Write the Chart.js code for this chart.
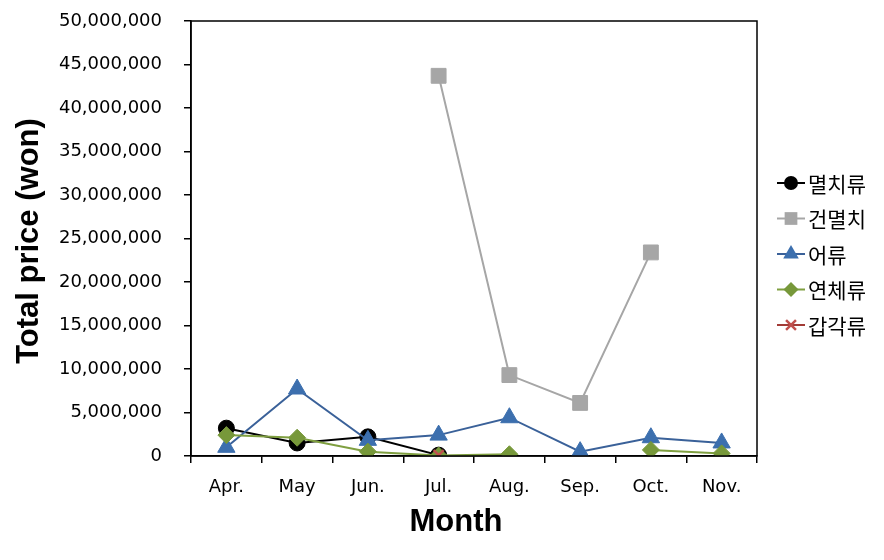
<!DOCTYPE html>
<html>
<head>
<meta charset="utf-8">
<script src="https://cdn.jsdelivr.net/npm/chart.js@4/dist/chart.umd.min.js"></script>
<style>
  html, body { margin: 0; padding: 0; background: #fff; }
  #wrap { width: 884px; height: 560px; }
</style>
</head>
<body>
<div id="wrap"><canvas id="priceChart" width="884" height="560"></canvas></div>
<script>
const months = ['Apr.', 'May', 'Jun.', 'Jul.', 'Aug.', 'Sep.', 'Oct.', 'Nov.'];
const seriesNames = ['멸치류', '건멸치', '어류', '연체류', '갑각류'];

// values in won
const anchovy    = [3200000, 1500000, 2200000, 100000, null, null, null, null];
const driedAnch  = [null, null, null, 43700000, 9300000, 6100000, 23400000, null];
const fish       = [1000000, 7700000, 1800000, 2400000, 4400000, 500000, 2100000, 1500000];
const mollusc    = [2400000, 2100000, 500000, 50000, 200000, null, 700000, 300000];
const crustacean = [null, null, null, 100000, null, null, null, null];

const yMax = 50000000;
const yStep = 5000000;

function fmt(v) {
  return v.toLocaleString('en-US');
}

// small marker drawer, used for the legend
function drawMarker(ctx, style, x, y, r, fill) {
  ctx.save();
  ctx.fillStyle = fill;
  ctx.strokeStyle = fill;
  ctx.beginPath();
  if (style === 'circle') {
    ctx.arc(x, y, r, 0, Math.PI * 2);
    ctx.fill();
  } else if (style === 'rect') {
    const s = Math.SQRT1_2 * r;
    ctx.rect(x - s, y - s, 2 * s, 2 * s);
    ctx.fill();
  } else if (style === 'triangle') {
    ctx.moveTo(x, y - r);
    ctx.lineTo(x + r * 0.866, y + r * 0.5);
    ctx.lineTo(x - r * 0.866, y + r * 0.5);
    ctx.closePath();
    ctx.fill();
  } else if (style === 'rectRot') {
    ctx.moveTo(x - r, y);
    ctx.lineTo(x, y - r);
    ctx.lineTo(x + r, y);
    ctx.lineTo(x, y + r);
    ctx.closePath();
    ctx.fill();
  } else if (style === 'crossRot') {
    ctx.lineWidth = 2.5;
    const d = r * 0.707;
    ctx.moveTo(x - d, y - d); ctx.lineTo(x + d, y + d);
    ctx.moveTo(x + d, y - d); ctx.lineTo(x - d, y + d);
    ctx.stroke();
  }
  ctx.restore();
}

const framePlugin = {
  id: 'frame',
  afterDraw(chart) {
    const ctx = chart.ctx;
    const a = chart.chartArea;
    ctx.save();
    ctx.strokeStyle = '#000';
    ctx.lineWidth = 1.5;
    ctx.strokeRect(a.left, a.top, a.right - a.left, a.bottom - a.top);

    // axis titles
    ctx.fillStyle = '#000';
    ctx.font = 'bold 31px "Liberation Sans", Arial, sans-serif';
    ctx.textAlign = 'center';
    ctx.textBaseline = 'middle';
    ctx.fillText('Month', 456, 522);
    ctx.translate(29, 241);
    ctx.rotate(-Math.PI / 2);
    ctx.fillText('Total price (won)', 0, 0);
    ctx.restore();

    // legend
    ctx.save();
    ctx.font = '21px "Noto Sans CJK KR", sans-serif';
    ctx.textAlign = 'left';
    ctx.textBaseline = 'middle';
    chart.data.datasets.forEach((ds, i) => {
      const y = 183 + i * 35.5;
      ctx.strokeStyle = ds.borderColor;
      ctx.lineWidth = 2;
      ctx.beginPath();
      ctx.moveTo(777, y);
      ctx.lineTo(805, y);
      ctx.stroke();
      drawMarker(ctx, ds.pointStyle, 791, y, ds.legendRadius, ds.pointBackgroundColor);
      ctx.fillStyle = '#000';
      ctx.fillText(ds.label, 808, y + 1);
    });
    ctx.restore();
  }
};

function makeSet(idx, data, line, fill, style, radius, legendRadius) {
  return {
    label: seriesNames[idx],
    data: data,
    order: seriesNames.length - 1 - idx, // later series on top
    borderColor: line,
    borderWidth: 2,
    pointStyle: style,
    pointRadius: radius,
    pointHoverRadius: radius,
    pointBackgroundColor: fill,
    pointBorderColor: fill,
    pointBorderWidth: style === 'crossRot' ? 2.5 : 1,
    legendRadius: legendRadius,
    spanGaps: false,
    tension: 0
  };
}

new Chart(document.getElementById('priceChart'), {
  type: 'line',
  data: {
    labels: months,
    datasets: [
      makeSet(0, anchovy, '#000000', '#000000', 'circle', 8, 7),
      makeSet(1, driedAnch, '#A6A6A6', '#A6A6A6', 'rect', 10.5, 9),
      makeSet(2, fish, '#3A6199', '#3C6FAE', 'triangle', 10, 9),
      makeSet(3, mollusc, '#7F9F40', '#77983A', 'rectRot', 8.5, 7.5),
      makeSet(4, crustacean, '#A23B36', '#C0504D', 'crossRot', 7, 7)
    ]
  },
  options: {
    responsive: false,
    animation: false,
    layout: { padding: { top: 21, right: 127, bottom: 0, left: 0 } },
    plugins: {
      legend: { display: false },
      tooltip: { enabled: false }
    },
    scales: {
      x: {
        type: 'category',
        offset: true,
        grid: {
          offset: true,
          drawOnChartArea: false,
          drawTicks: true,
          tickLength: 7,
          color: '#000',
          lineWidth: 1.5
        },
        border: { display: true, color: '#000', width: 1.5 },
        ticks: {
          color: '#000',
          padding: 14,
          font: { family: '"DejaVu Sans", sans-serif', size: 18 }
        },
        afterFit(scale) {
          scale.height = 104;
          scale.paddingLeft = 0;
          scale.paddingRight = 0;
        }
      },
      y: {
        min: 0,
        max: yMax,
        grid: {
          drawOnChartArea: false,
          drawTicks: true,
          tickLength: 7,
          color: '#000',
          lineWidth: 1.5
        },
        border: { display: true, color: '#000', width: 1.5 },
        ticks: {
          stepSize: yStep,
          color: '#000',
          padding: 22,
          font: { family: '"DejaVu Sans", sans-serif', size: 18 },
          callback: (v) => fmt(v)
        },
        afterFit(scale) {
          scale.width = 191;
          scale.paddingTop = 0;
          scale.paddingBottom = 0;
        }
      }
    }
  },
  plugins: [framePlugin]
});
</script>
</body>
</html>
